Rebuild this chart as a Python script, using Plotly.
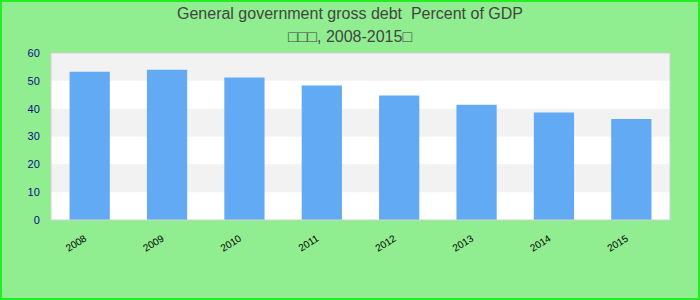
import plotly.graph_objects as go

years = ["2008", "2009", "2010", "2011", "2012", "2013", "2014", "2015"]
debt = [53.3, 54.0, 51.2, 48.3, 44.7, 41.4, 38.6, 36.3]
y_ticks = [0, 10, 20, 30, 40, 50, 60]
title_line1 = "General government gross debt  Percent of GDP"
title_line2 = "\u25a1\u25a1\u25a1, 2008-2015\u25a1"

W, H = 700, 300
ml, mr, mt, mb = 51, 30, 53, 80
pw, ph = W - ml - mr, H - mt - mb

def py(pix):
    return (mt + ph - pix) / ph

def px(pix):
    return (pix - ml) / pw

fig = go.Figure(go.Bar(x=years, y=debt, marker=dict(color="#63aaf5", line=dict(width=0)),
                       hoverinfo="x+y"))

shapes = []
for lo in (10, 30, 50):
    shapes.append(dict(type="rect", xref="paper", yref="y", x0=0, x1=1, y0=lo, y1=lo + 10,
                       fillcolor="#f2f2f2", line=dict(width=0), layer="below"))
shapes.append(dict(type="rect", xref="paper", yref="paper", x0=0, x1=1, y0=0, y1=1,
                   line=dict(color="#d0d0d0", width=1), layer="above"))
shapes.append(dict(type="rect", xref="paper", yref="paper",
                   x0=px(1), x1=px(W - 1), y0=py(H - 1), y1=py(1),
                   line=dict(color="#22ee22", width=2), layer="above"))

annotations = [
    dict(text=title_line1, xref="paper", yref="paper", x=px(350), y=py(13),
         xanchor="center", yanchor="middle", showarrow=False,
         font=dict(size=16, color="#444444")),
    dict(text=title_line2, xref="paper", yref="paper", x=px(350), y=py(37),
         xanchor="center", yanchor="middle", showarrow=False,
         font=dict(size=16, color="#444444")),
]

fig.update_layout(
    width=W, height=H,
    margin=dict(l=ml, r=mr, t=mt, b=mb),
    paper_bgcolor="#90ee90",
    plot_bgcolor="#ffffff",
    font=dict(family="Liberation Sans, Arial, sans-serif"),
    bargap=0.48,
    showlegend=False,
    shapes=shapes,
    annotations=annotations,
    xaxis=dict(tickangle=-32, tickfont=dict(size=10, color="#000000"), showgrid=False,
               zeroline=False, showline=False, ticks="", ticklabelstandoff=10,
               ticklabelshift=-5),
    yaxis=dict(range=[0, 60], tickvals=y_ticks, tickfont=dict(size=11, color="#0c0c8c"),
               showgrid=False, zeroline=False, showline=False,
               ticks="outside", ticklen=8, tickcolor="rgba(0,0,0,0)"),
)

fig.write_html("out.html")
